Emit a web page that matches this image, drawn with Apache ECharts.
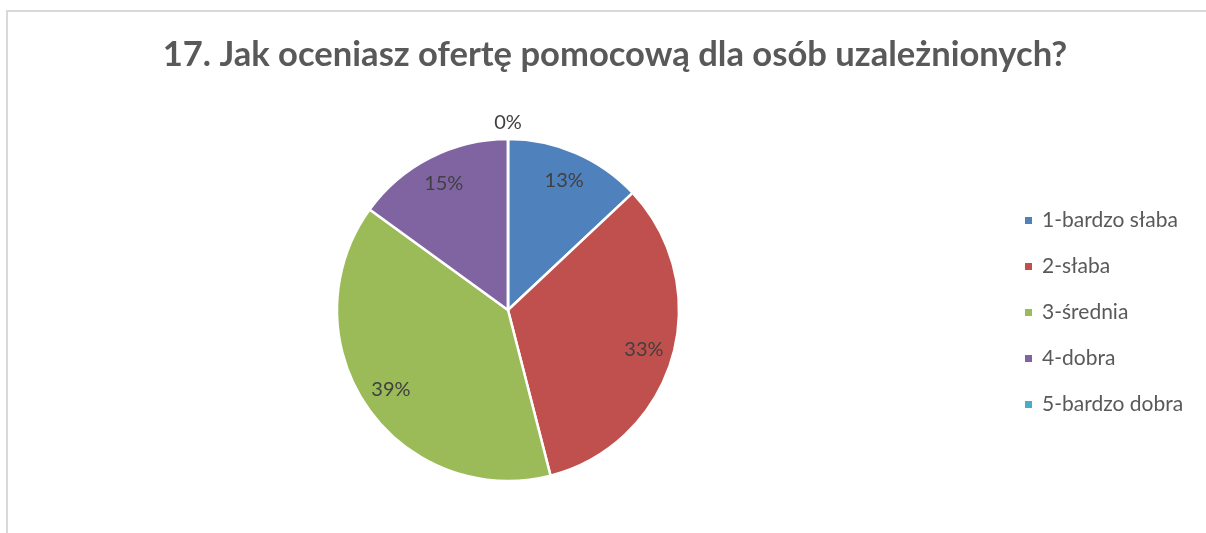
<!DOCTYPE html>
<html>
<head>
<meta charset="utf-8">
<script src="https://cdn.jsdelivr.net/npm/echarts@6/dist/echarts.min.js"></script>
<style>
  html, body { margin: 0; padding: 0; background: #fff; overflow: hidden; }
  #frame {
    position: absolute; left: 6px; top: 10px; width: 1300px; height: 600px;
    border-left: 2px solid #d9d9d9; border-top: 2px solid #d9d9d9; box-sizing: border-box;
  }
  #chart { position: absolute; left: 0; top: 0; width: 1206px; height: 533px; }
</style>
</head>
<body>
<div id="frame"></div>
<div id="chart"></div>
<script>
// Survey answers: rating of the help offered to addicted people
const titleText = '17. Jak oceniasz ofertę pomocową dla osób uzależnionych?';
const categories = ['1-bardzo słaba', '2-słaba', '3-średnia', '4-dobra', '5-bardzo dobra'];
const shares = [13, 33, 39, 15, 0];
const colors = ['#4F81BD', '#C0504D', '#9BBB59', '#8064A2', '#4BACC6'];

const FONT = 'Lato, "DejaVu Sans", sans-serif';
const center = ['508', '310'];
const R = 171;

const slices = categories.map((name, i) => ({
  name,
  value: shares[i],
  // a zero share gets its label outside, above the pie
  label: shares[i] === 0
    ? { show: true, position: 'outside', distanceToLabelLine: 0 }
    : { show: false }
}));

// transparent ring used only to place the percentage labels at ~0.8 of the radius
const labelRing = categories.map((name, i) => ({
  name,
  value: shares[i],
  label: { show: shares[i] !== 0 }
}));

const chart = echarts.init(document.getElementById('chart'), null, { renderer: 'canvas' });
chart.setOption({
  backgroundColor: 'transparent',
  animation: false,
  color: colors,
  title: {
    text: titleText,
    left: 610,
    textAlign: 'center',
    top: 32,
    textStyle: { fontFamily: FONT, fontWeight: 'bold', fontSize: 34.6, color: '#595959' }
  },
  legend: {
    orient: 'vertical',
    left: 1023,
    top: 210,
    padding: 0,
    icon: 'rect',
    itemWidth: 9,
    itemHeight: 9,
    itemGap: 25,
    data: categories,
    textStyle: { fontFamily: FONT, fontSize: 21, color: '#595959', lineHeight: 20, padding: [0, 0, 0, 4] }
  },
  series: [
    {
      type: 'pie',
      center,
      radius: [0, R],
      startAngle: 90,
      clockwise: true,
      minAngle: 0,
      avoidLabelOverlap: false,
      itemStyle: { borderColor: '#ffffff', borderWidth: 2.5 },
      label: {
        formatter: '{d}%',
        fontFamily: FONT, fontSize: 20, color: '#404040'
      },
      labelLayout: { align: 'center' },
      labelLine: { show: false, length: 16, length2: 0 },
      emphasis: { disabled: true },
      data: slices
    },
    {
      type: 'pie',
      silent: true,
      center,
      radius: [0, R * 1.62],
      startAngle: 90,
      clockwise: true,
      avoidLabelOverlap: false,
      itemStyle: { color: 'rgba(0,0,0,0)' },
      label: {
        position: 'inside',
        formatter: p => Math.round(p.percent) + '%',
        fontFamily: FONT, fontSize: 20, color: '#404040'
      },
      labelLine: { show: false },
      emphasis: { disabled: true },
      tooltip: { show: false },
      legendHoverLink: false,
      data: labelRing
    }
  ]
});
</script>
</body>
</html>
